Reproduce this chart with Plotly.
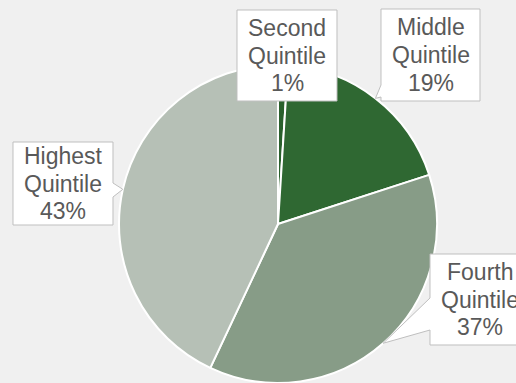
import math
import plotly.graph_objects as go

# Income share by quintile
categories = ["Second Quintile", "Middle Quintile", "Fourth Quintile", "Highest Quintile"]
values = [1, 19, 37, 43]
slice_colors = ["#2a602c", "#2f6832", "#879c87", "#b6c0b6"]

W, H = 516, 383

# Pie placement in pixels (square domain -> radius = side / 2)
pie_left, pie_right, pie_top = 119, 437, 65
side = pie_right - pie_left
cx, cy, radius = (pie_left + pie_right) / 2, pie_top + side / 2, side / 2

# Callout boxes: (x0, y0, x1, y1) in pixels, pointer side and pointer base span
callouts = [
    dict(box=(237, 10, 337, 101), side=None, base=None),
    dict(box=(381, 9, 480, 101), side="left", base=(85, 97)),
    dict(box=(430, 254, 530, 345), side="left", base=(298, 330)),
    dict(box=(13, 142, 113, 225), side="right", base=(183, 197)),
]
line_offsets = [-27.5, 0, 27.5]  # text line centres relative to box middle


def px(x):
    return x / W


def py(y):
    return 1 - y / H


fig = go.Figure(
    go.Pie(
        labels=categories,
        values=values,
        sort=False,
        direction="clockwise",
        rotation=0,
        textinfo="none",
        marker=dict(colors=slice_colors, line=dict(color="white", width=2)),
        domain=dict(x=[px(pie_left), px(pie_right)], y=[0, side / H]),
        showlegend=False,
    )
)

total = sum(values)
cum = 0
shapes, annotations = [], []
for cat, val, co in zip(categories, values, callouts):
    mid = 2 * math.pi * (cum + val / 2) / total
    cum += val
    tx, ty = cx + radius * math.sin(mid), cy - radius * math.cos(mid)
    x0, y0, x1, y1 = co["box"]
    if co["side"] == "left":
        b0, b1 = co["base"]
        pts = [(x0, y0), (x1, y0), (x1, y1), (x0, y1), (x0, b1), (tx, ty), (x0, b0)]
    elif co["side"] == "right":
        b0, b1 = co["base"]
        pts = [(x0, y0), (x1, y0), (x1, b0), (tx, ty), (x1, b1), (x1, y1), (x0, y1)]
    else:
        pts = [(x0, y0), (x1, y0), (x1, y1), (x0, y1)]
    path = "M " + " L ".join(f"{px(a):.5f},{py(b):.5f}" for a, b in pts) + " Z"
    shapes.append(dict(type="path", xref="paper", yref="paper", path=path,
                       fillcolor="white", line=dict(color="#bfbfbf", width=1)))
    lines = cat.split(" ") + [f"{val:.0f}%"]
    xc, yc = (x0 + x1) / 2, (y0 + y1) / 2
    for text, off in zip(lines, line_offsets):
        annotations.append(dict(
            x=px(xc), y=py(yc + off), xref="paper", yref="paper",
            text=text, showarrow=False, xanchor="center", yanchor="middle",
            font=dict(family="Liberation Sans, Arial, sans-serif", size=23, color="#595959"),
        ))

fig.update_layout(
    width=W, height=H, autosize=False,
    margin=dict(l=0, r=0, t=0, b=0),
    paper_bgcolor="#f0f0f0", plot_bgcolor="#f0f0f0",
    shapes=shapes, annotations=annotations,
)

fig.write_html("out.html")
